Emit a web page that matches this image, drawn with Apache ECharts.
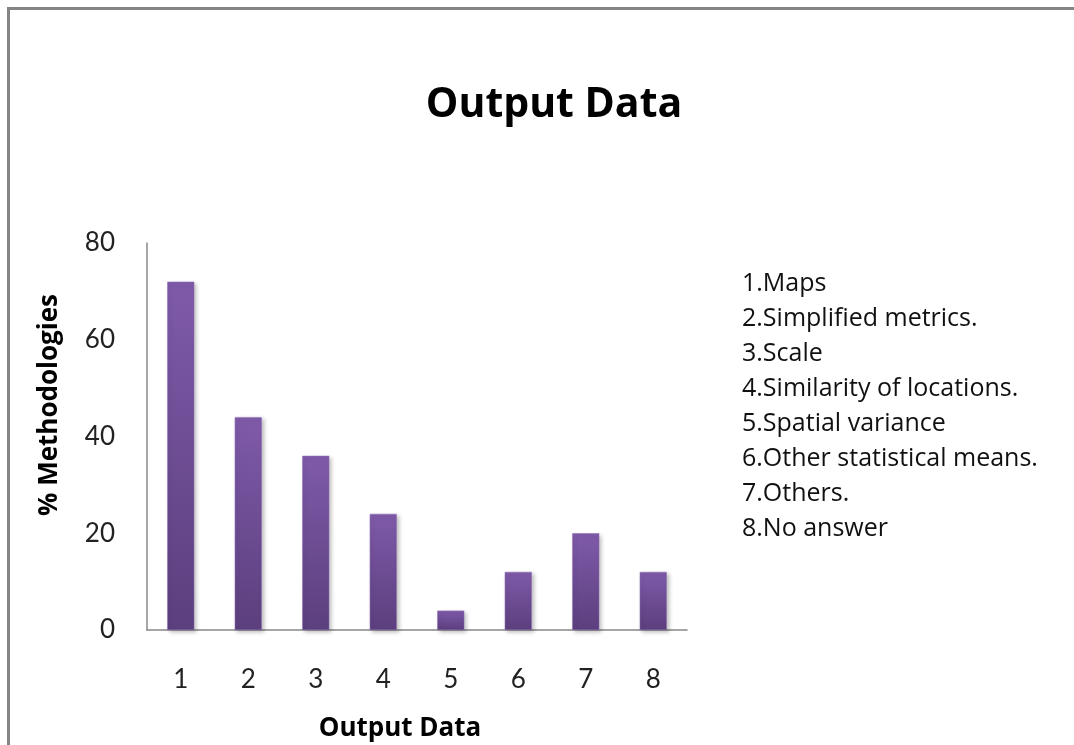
<!DOCTYPE html>
<html>
<head>
<meta charset="utf-8">
<script src="https://cdn.jsdelivr.net/npm/echarts@6/dist/echarts.min.js"></script>
<style>
  html, body { margin: 0; padding: 0; background: #fff; }
  #main { width: 1074px; height: 745px; }
</style>
</head>
<body>
<div id="main"></div>
<script>
const categories = ['1', '2', '3', '4', '5', '6', '7', '8'];
const percentValues = [72, 44, 36, 24, 4, 12, 20, 12];
const legendLabels = [
    '1.Maps',
    '2.Simplified metrics.',
    '3.Scale',
    '4.Similarity of locations.',
    '5.Spatial variance',
    '6.Other statistical means.',
    '7.Others.',
    '8.No answer'
];
const yTicks = [0, 20, 40, 60, 80];

const _font = 'Lato, "Open Sans", sans-serif';
const _wideFont = '"Open Sans", Lato, sans-serif';

const _barStyle = {
    color: new echarts.graphic.LinearGradient(0, 0, 0, 1, [
        { offset: 0, color: '#7f5aa9' },
        { offset: 1, color: '#5c3f7e' }
    ]),
    borderColor: '#8e6cb6',
    borderWidth: 0.5,
    shadowColor: 'rgba(0,0,0,0.25)',
    shadowBlur: 4,
    shadowOffsetX: 2,
    shadowOffsetY: 2
};

function initChart(divId) {
    var dom = document.getElementById(divId);
    var myChart = echarts.init(dom, null, { renderer: 'canvas' });
    var option = {
        backgroundColor: '#ffffff',
        animation: false,
        title: [
            {
                text: 'Output Data',
                left: 549,
                top: 80,
                textAlign: 'center',
                textStyle: { fontFamily: _wideFont, fontSize: 41, fontWeight: 'bold', color: '#000' }
            },
            {
                text: legendLabels.join('\n'),
                left: 737,
                top: 261,
                textStyle: { fontFamily: _wideFont, fontSize: 25, fontWeight: 'normal', color: '#111', lineHeight: 35 }
            },
            {
                text: 'Output Data',
                left: 395,
                top: 711,
                textAlign: 'center',
                textStyle: { fontFamily: _wideFont, fontSize: 26, fontWeight: 'bold', color: '#000' }
            }
        ],
        graphic: [
            {
                type: 'polyline',
                shape: { points: [[8.5, 745], [8.5, 8.5], [1074, 8.5]] },
                style: { stroke: '#858585', lineWidth: 3, fill: null }
            },
            {
                type: 'text',
                x: 50,
                y: 405,
                rotation: Math.PI / 2,
                style: {
                    text: '% Methodologies',
                    fontFamily: _wideFont,
                    fontSize: 26,
                    fontWeight: 'bold',
                    fill: '#000',
                    align: 'center',
                    verticalAlign: 'middle'
                }
            }
        ],
        grid: { left: 147, right: 387, top: 243, bottom: 115, containLabel: false },
        xAxis: {
            type: 'category',
            data: categories,
            axisLine: { lineStyle: { color: '#888', width: 1.5 } },
            axisTick: { show: false },
            axisLabel: { fontFamily: _font, fontSize: 26, color: '#222', margin: 37 }
        },
        yAxis: {
            type: 'value',
            min: yTicks[0],
            max: yTicks[yTicks.length - 1],
            interval: 20,
            axisLine: { show: true, lineStyle: { color: '#888', width: 1.5 } },
            axisTick: { show: false },
            splitLine: { show: false },
            axisLabel: { fontFamily: _font, fontSize: 26, color: '#222', margin: 32 }
        },
        series: [
            {
                type: 'bar',
                data: percentValues,
                barWidth: 27,
                itemStyle: _barStyle
            }
        ]
    };
    myChart.setOption(option);
    window.addEventListener('resize', myChart.resize);
}

initChart('main');
</script>
</body>
</html>
